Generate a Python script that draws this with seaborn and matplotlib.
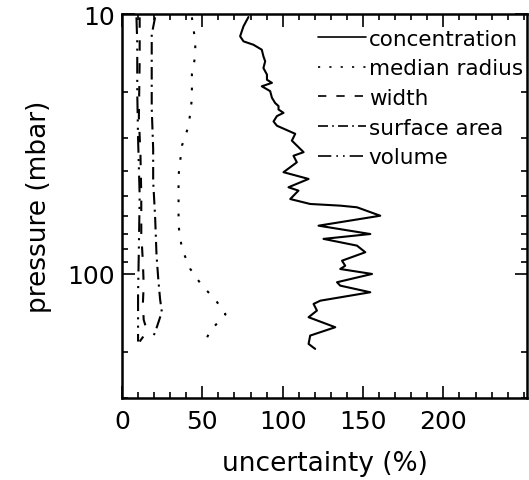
import pandas as pd
import seaborn as sns
import matplotlib.pyplot as plt
from matplotlib.ticker import FixedLocator, MultipleLocator, NullFormatter

# values (uncertainty in %, pressure in mbar)
conc_p = [10.27, 11.15, 12.18, 12.74, 13.13, 13.72, 14.55, 15.2, 16.14, 17.1,
          17.9, 18.4, 18.97, 19.8, 21.0, 22.0, 22.6, 23.3, 24.0, 24.7, 25.9,
          26.9, 28.9, 30.7, 34.0, 35.1, 37.2, 40.6, 43.1, 46.4, 47.8, 51.5,
          53.8, 54.6, 55.4, 59.7, 65.2, 70.2, 73.3, 77.8, 82.5, 88.9, 93.0,
          95.7, 100, 107.6, 110.9, 117.6, 126.7, 130.4, 138.3, 146.7, 160.3,
          172.6, 185.8, 194.2]
conc_u = [78.7, 75.6, 73.5, 75.6, 81.8, 87.0, 88.0, 89.1, 88.0, 90.2,
          90.2, 93.3, 87.0, 92.2, 93.3, 95.3, 97.4, 97.4, 100.5, 96.4, 94.3,
          96.4, 107.8, 105.7, 113.0, 106.7, 108.8, 100.5, 116.1, 103.6, 109.8, 104.7,
          117.1, 135.8, 146.2, 160.7, 122.3, 154.5, 125.4, 146.2, 151.4, 136.9, 138.9,
          135.8, 155.6, 133.8, 135.8, 154.5, 123.4, 119.2, 121.3, 116.1, 132.7,
          117.1, 116.1, 120.2]

rad_p = [10.3, 12.8, 14.5, 17.0, 21.2, 26.9, 32.1, 41.8, 52.8, 65.3, 80.1,
         95.7, 110.9, 125.3, 142.9, 165.2, 180.8]
rad_u = [43.5, 45.6, 45.6, 43.5, 43.5, 41.5, 37.3, 35.2, 35.2, 35.2, 37.3,
         42.5, 49.8, 58, 64.4, 55, 51.9]

width_p = [10.3, 15, 25, 35, 50, 70, 90, 110, 130, 150, 165, 175, 182]
width_u = [11, 11, 10.5, 11.5, 12, 12, 13, 13.5, 13, 13.5, 15.5, 13, 11]

surf_p = [10.3, 12.0, 17.0, 23.0, 33.0, 44.0, 60.0, 85.0, 105, 125, 140, 160, 175]
surf_u = [20.6, 18.5, 18.5, 18.5, 19.4, 19.4, 20.6, 21.5, 22.6, 23.7, 24.8, 21.7, 19.4]

vol_p = [10.3, 13, 20, 30, 50, 80, 120, 160, 182]
vol_u = [9, 9.5, 9.5, 10, 11, 10.5, 10, 10, 10]

labels = ['concentration', 'median radius', 'width', 'surface area', 'volume']
series = [(conc_u, conc_p), (rad_u, rad_p), (width_u, width_p),
          (surf_u, surf_p), (vol_u, vol_p)]
styles = ['-', (0, (1.3, 5.5)), (0, (5, 6)), (0, (6, 2.5, 1, 2.5)),
          (0, (8, 3, 1, 3, 1, 3))]

black = {'axes.edgecolor': 'black', 'text.color': 'black',
         'xtick.color': 'black', 'ytick.color': 'black',
         'axes.labelcolor': 'black'}
sns.set_style('ticks', black)
plt.rcParams['font.family'] = ['DejaVu Sans']

fig = plt.figure(figsize=(5.29, 4.81), dpi=100)
ax = fig.add_axes([0.2306, 0.1705, 0.7656, 0.7983])

for (u, p), lab, ls in zip(series, labels, styles):
    df = pd.DataFrame({'u': u, 'p': p})
    sns.lineplot(data=df, x='u', y='p', sort=False, estimator=None,
                 color='black', linewidth=1.5, linestyle=ls, label=lab, ax=ax)

ax.set_yscale('log')
ax.set_ylim(300, 10)
ax.set_xlim(0, 252)

ax.set_xticks([0, 50, 100, 150, 200])
ax.xaxis.set_minor_locator(MultipleLocator(10))
ax.yaxis.set_major_locator(FixedLocator([10, 100]))
ax.yaxis.set_minor_locator(FixedLocator([20, 30, 40, 50, 60, 70, 80, 90, 200, 300]))
ax.yaxis.set_minor_formatter(NullFormatter())
ax.set_yticklabels(['10', '100'])

ax.tick_params(which='both', direction='in', top=True, right=True,
               width=1.2, labelsize=18)
ax.tick_params(axis='x', pad=8)
ax.tick_params(axis='y', pad=5)
ax.tick_params(which='major', length=9)
ax.tick_params(which='minor', length=4)
for s in ax.spines.values():
    s.set_linewidth(1.8)

ax.set_xlabel('uncertainty (%)', fontsize=19, labelpad=12)
ax.set_ylabel('pressure (mbar)', fontsize=19, labelpad=11)

leg = ax.legend(loc='upper left', bbox_to_anchor=(0.484, 0.962), frameon=False,
                fontsize=15.5, handlelength=2.25, handletextpad=0.1,
                labelspacing=0.45, borderaxespad=0, borderpad=0)
for h in leg.get_lines():
    h.set_linewidth(1.2)

fig.savefig('out.png', dpi=100)
